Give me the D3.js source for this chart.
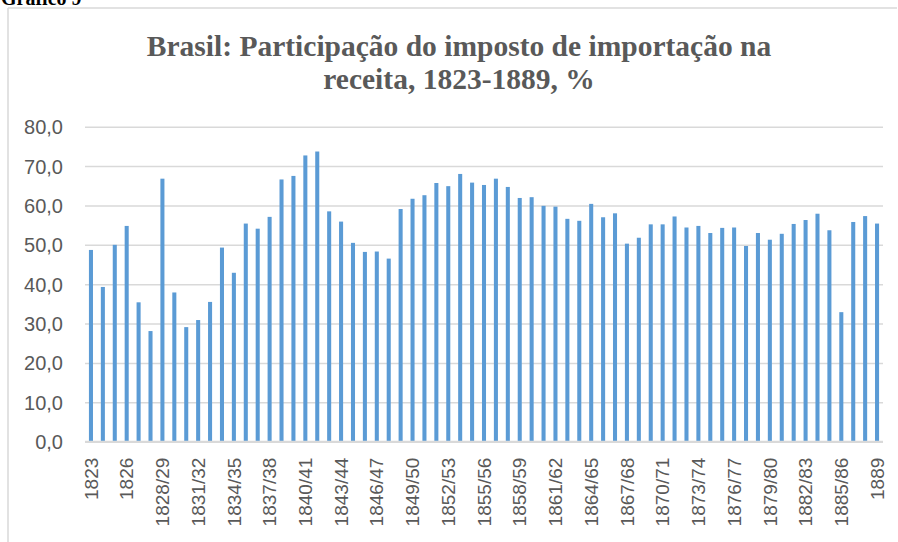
<!DOCTYPE html>
<html>
<head>
<meta charset="utf-8">
<script src="https://cdn.jsdelivr.net/npm/d3@7/dist/d3.min.js"></script>
<style>
  html, body { margin: 0; padding: 0; background: #fff; }
  svg { display: block; }
  .serif { font-family: "Liberation Serif", "Times New Roman", "DejaVu Serif", serif; }
  .sans { font-family: "Liberation Sans", Arial, sans-serif; }
</style>
</head>
<body>
<svg id="chart" width="898" height="542"></svg>
<script>
// ---- data ----
const categories = [
  "1823","1824","1825","1826","1827","1828","1828/29","1829/30","1830/31","1831/32",
  "1832/33","1833/34","1834/35","1835/36","1836/37","1837/38","1838/39","1839/40","1840/41","1841/42",
  "1842/43","1843/44","1844/45","1845/46","1846/47","1847/48","1848/49","1849/50","1850/51","1851/52",
  "1852/53","1853/54","1854/55","1855/56","1856/57","1857/58","1858/59","1859/60","1860/61","1861/62",
  "1862/63","1863/64","1864/65","1865/66","1866/67","1867/68","1868/69","1869/70","1870/71","1871/72",
  "1872/73","1873/74","1874/75","1875/76","1876/77","1877/78","1878/79","1879/80","1880/81","1881/82",
  "1882/83","1883/84","1884/85","1885/86","1886/87","1888","1889"
];
const values = [
  48.7, 39.3, 50.0, 54.8, 35.4, 28.1, 66.8, 37.9, 29.1, 30.9,
  35.5, 49.3, 42.9, 55.4, 54.1, 57.1, 66.6, 67.5, 72.7, 73.7,
  58.5, 55.9, 50.5, 48.2, 48.3, 46.5, 59.1, 61.7, 62.6, 65.7,
  64.9, 68.0, 65.8, 65.2, 66.8, 64.7, 61.9, 62.1, 59.9, 59.7,
  56.6, 56.1, 60.4, 57.0, 58.0, 50.3, 51.8, 55.2, 55.2, 57.2,
  54.4, 54.8, 53.0, 54.3, 54.4, 49.7, 53.0, 51.3, 52.8, 55.3,
  56.3, 57.9, 53.7, 32.9, 55.8, 57.3, 55.4
];
const yTicks = [0, 10, 20, 30, 40, 50, 60, 70, 80];
const labelEvery = 3;
const titleLines = ["Brasil: Participação do imposto de importação na", "receita, 1823-1889, %"];
const captionText = "Gráfico 9";

// ---- layout ----
const svg = d3.select("#chart");
const plot = { left: 85, right: 883, top: 126.7, bottom: 441.7 };
const textColor = "#595959";
const gridColor = "#d9d9d9";
const barColor = "#5b9bd5";

// frame
svg.append("line").attr("x1", 8).attr("x2", 8).attr("y1", 8).attr("y2", 542)
  .attr("stroke", gridColor).attr("stroke-width", 1.5);
svg.append("line").attr("x1", 8).attr("x2", 897).attr("y1", 8).attr("y2", 8)
  .attr("stroke", gridColor).attr("stroke-width", 1.5);

// caption (partly cut at top, as in the reference)
svg.append("text").attr("class", "serif").attr("x", 1).attr("y", 5)
  .attr("font-weight", "bold").attr("font-size", 20).attr("fill", "#000")
  .text(captionText);

// title
svg.append("text").attr("class", "serif")
  .attr("text-anchor", "middle")
  .attr("font-weight", "bold").attr("font-size", 29.5).attr("fill", textColor)
  .selectAll("tspan").data(titleLines).join("tspan")
  .attr("x", 459).attr("y", (d, i) => i === 0 ? 56 : 89)
  .text(d => d);

// scales
const x = d3.scaleBand().domain(categories).range([plot.left, plot.right]).paddingInner(0.66).paddingOuter(0.33);
const y = d3.scaleLinear().domain([0, 80]).range([plot.bottom, plot.top]);

// gridlines + y labels
const yAxis = d3.axisLeft(y).tickValues(yTicks).tickSize(-(plot.right - plot.left))
  .tickFormat(d => d3.format(".1f")(d).replace(".", ","));
const gy = svg.append("g").attr("transform", `translate(${plot.left},0)`).call(yAxis);
gy.select(".domain").remove();
gy.selectAll(".tick line").attr("stroke", gridColor).attr("stroke-width", 1.5);
gy.selectAll(".tick text")
  .attr("class", "sans")
  .attr("x", -22).attr("dy", "0.35em")
  .attr("font-size", 20).attr("fill", textColor);

// bars
svg.append("g").selectAll("rect").data(values).join("rect")
  .attr("x", (d, i) => x(categories[i]))
  .attr("width", x.bandwidth())
  .attr("y", d => y(d))
  .attr("height", d => y(0) - y(d))
  .attr("fill", barColor);

// x axis
const xAxis = d3.axisBottom(x).tickSize(0)
  .tickFormat((d, i) => i % labelEvery === 0 ? d : "");
const gx = svg.append("g").attr("transform", `translate(0,${plot.bottom})`).call(xAxis);
gx.select(".domain").attr("stroke", gridColor).attr("stroke-width", 2)
  .attr("d", `M${plot.left},0H${plot.right}`);
gx.selectAll(".tick text")
  .attr("class", "sans")
  .attr("transform", "rotate(-90)")
  .attr("text-anchor", "end")
  .attr("x", -16).attr("y", 0).attr("dy", "0.35em")
  .attr("font-size", 19).attr("fill", textColor);
</script>
</body>
</html>
